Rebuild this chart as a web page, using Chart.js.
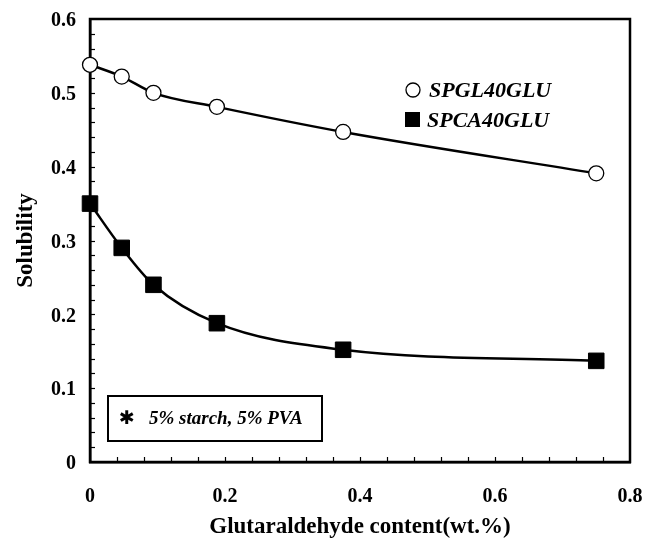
<!DOCTYPE html>
<html>
<head>
<meta charset="utf-8">
<script src="https://cdn.jsdelivr.net/npm/chart.js@4/dist/chart.umd.min.js"></script>
<style>
  html, body { margin: 0; padding: 0; background: #fff; }
  #wrap { width: 657px; height: 548px; }
</style>
</head>
<body>
<div id="wrap"><canvas id="c" width="657" height="548"></canvas></div>
<script>
// glutaraldehyde content (wt.%)
const glu = [0, 0.047, 0.094, 0.188, 0.375, 0.75];
const spgl = [0.538, 0.522, 0.500, 0.481, 0.447, 0.391];
const spca = [0.350, 0.290, 0.240, 0.188, 0.152, 0.137];
const xTicks = [0, 0.2, 0.4, 0.6, 0.8];
const yTicks = [0, 0.1, 0.2, 0.3, 0.4, 0.5, 0.6];
const seriesNames = ['SPGL40GLU', 'SPCA40GLU'];
const noteText = '5% starch, 5% PVA';

const serif = '"Liberation Serif", "Times New Roman", serif';

function toPoints(xs, ys) {
  return xs.map((x, i) => ({ x: x, y: ys[i] }));
}

function noOverflow(s) {
  s.paddingTop = 0; s.paddingBottom = 0;
  s.paddingLeft = 0; s.paddingRight = 0;
}

// frame, inward minor ticks, legend and the note box
const extras = {
  id: 'extras',
  beforeDatasetsDraw(chart) {
    const ctx = chart.ctx;
    const a = chart.chartArea;
    const xs = chart.scales.x, ys = chart.scales.y;
    ctx.save();
    ctx.strokeStyle = '#000';
    ctx.lineWidth = 1.2;
    for (let v = 0.02; v < 0.6; v += 0.02) {
      const py = Math.round(ys.getPixelForValue(v)) + 0.5;
      ctx.beginPath(); ctx.moveTo(a.left, py); ctx.lineTo(a.left + 5, py); ctx.stroke();
    }
    for (let v = 0.04; v < 0.8; v += 0.04) {
      const px = Math.round(xs.getPixelForValue(v)) + 0.5;
      ctx.beginPath(); ctx.moveTo(px, a.bottom); ctx.lineTo(px, a.bottom - 5); ctx.stroke();
    }
    ctx.lineWidth = 2.5;
    ctx.strokeRect(a.left, a.top, a.right - a.left, a.bottom - a.top);
    ctx.restore();
  },
  afterDraw(chart) {
    const ctx = chart.ctx;
    ctx.save();
    ctx.strokeStyle = '#000';
    // legend
    ctx.fillStyle = '#000';
    ctx.font = 'italic bold 22px ' + serif;
    ctx.textBaseline = 'middle';
    ctx.lineWidth = 1.3;
    ctx.beginPath(); ctx.arc(413, 90, 7, 0, Math.PI * 2);
    ctx.fillStyle = '#fff'; ctx.fill(); ctx.stroke();
    ctx.fillStyle = '#000';
    ctx.fillText(seriesNames[0], 429, 91);
    ctx.fillRect(405, 112, 15, 15);
    ctx.fillText(seriesNames[1], 427, 121);

    // note box
    ctx.lineWidth = 2;
    ctx.strokeRect(108, 396, 214, 45);
    ctx.font = 'bold 19px "DejaVu Sans"';
    ctx.fillText('\u2731', 119, 419);
    ctx.font = 'italic bold 19px ' + serif;
    ctx.fillText(noteText, 149, 419);
    ctx.restore();
  }
};

new Chart(document.getElementById('c'), {
  type: 'scatter',
  data: {
    datasets: [
      {
        label: seriesNames[0],
        data: toPoints(glu, spgl),
        showLine: true,
        clip: false,
        borderColor: '#000',
        borderWidth: 2.5,
        tension: 0.4,
        cubicInterpolationMode: 'monotone',
        pointStyle: 'circle',
        pointRadius: 7.5,
        pointBackgroundColor: '#fff',
        pointBorderColor: '#000',
        pointBorderWidth: 1.3
      },
      {
        label: seriesNames[1],
        data: toPoints(glu, spca),
        showLine: true,
        clip: false,
        borderColor: '#000',
        borderWidth: 2.5,
        tension: 0.4,
        cubicInterpolationMode: 'monotone',
        pointStyle: 'rect',
        pointRadius: 11,
        pointBackgroundColor: '#000',
        pointBorderColor: '#000',
        pointBorderWidth: 1
      }
    ]
  },
  options: {
    responsive: false,
    animation: false,
    layout: { padding: { top: 19, right: 27, left: 0, bottom: 0 } },
    plugins: { legend: { display: false }, tooltip: { enabled: false } },
    scales: {
      x: {
        type: 'linear',
        min: 0, max: 0.8,
        afterBuildTicks(s) { s.ticks = xTicks.map(v => ({ value: v })); },
        afterFit(s) { s.height = 86; noOverflow(s); },
        grid: { display: false, drawTicks: false },
        border: { display: true, color: '#000', width: 2.5 },
        ticks: {
          color: '#000',
          padding: 23,
          font: { family: serif, size: 20, weight: 'bold' },
          callback: v => v === 0 ? '0' : v.toFixed(1)
        },
        title: {
          display: true,
          text: 'Glutaraldehyde content(wt.%)',
          color: '#000',
          font: { family: serif, size: 23, weight: 'bold' },
          padding: { top: 0, bottom: 7 }
        }
      },
      y: {
        type: 'linear',
        min: 0, max: 0.6,
        afterBuildTicks(s) { s.ticks = yTicks.map(v => ({ value: v })); },
        afterFit(s) { s.width = 90; noOverflow(s); },
        grid: { display: false, drawTicks: false },
        border: { display: true, color: '#000', width: 2.5 },
        ticks: {
          color: '#000',
          padding: 14,
          labelOffset: 2,
          font: { family: serif, size: 20, weight: 'bold' },
          callback: v => v === 0 ? '0' : v.toFixed(1)
        },
        title: {
          display: true,
          text: 'Solubility',
          color: '#000',
          font: { family: serif, size: 23, weight: 'bold' },
          padding: { top: 12, bottom: 0 }
        }
      }
    }
  },
  plugins: [extras, {
    id: 'bg',
    beforeDraw(chart) {
      const ctx = chart.ctx;
      ctx.save(); ctx.fillStyle = '#fff';
      ctx.fillRect(0, 0, chart.width, chart.height);
      ctx.restore();
    }
  }]
});
</script>
</body>
</html>
